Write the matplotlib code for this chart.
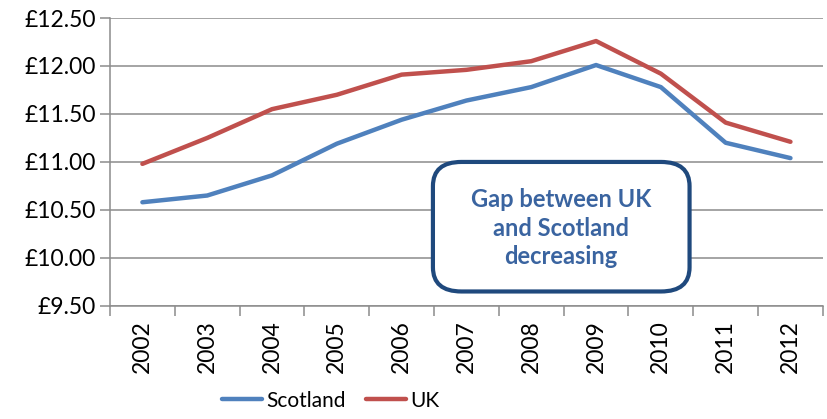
import matplotlib.pyplot as plt
from matplotlib.patches import FancyBboxPatch
import numpy as np

years = ['2002', '2003', '2004', '2005', '2006', '2007', '2008', '2009', '2010', '2011', '2012']
scotland = [10.58, 10.65, 10.86, 11.19, 11.44, 11.64, 11.78, 12.01, 11.78, 11.20, 11.04]
uk = [10.98, 11.25, 11.55, 11.70, 11.91, 11.96, 12.05, 12.26, 11.92, 11.41, 11.21]
yticks = [9.50, 10.00, 10.50, 11.00, 11.50, 12.00, 12.50]

plt.rcParams['font.family'] = ['Lato', 'DejaVu Sans']

fig = plt.figure(figsize=(8.27, 4.19), dpi=100)
ax = fig.add_axes([0.133, 0.27, 0.862, 0.687])

x = np.arange(len(years))
ax.plot(x, scotland, color='#4F81BD', lw=3.2, label='Scotland', solid_capstyle='round', zorder=3)
ax.plot(x, uk, color='#C0504D', lw=3.2, label='UK', solid_capstyle='round', zorder=3)

ax.set_xlim(-0.5, len(years) - 0.5)
ax.set_ylim(9.5, 12.5)
ax.set_yticks(yticks)
ax.set_yticklabels(['£%.2f' % v for v in yticks], fontsize=16.5)
ax.yaxis.grid(True, color='#8C8C8C', lw=1.1)
ax.set_axisbelow(True)

ax.set_xticks(x)
ax.set_xticklabels(years, rotation=90, fontsize=16.5)
ax.set_xticks(np.arange(-0.5, len(years)), minor=True)
ax.tick_params(axis='x', which='major', length=0, pad=10)
ax.tick_params(axis='x', which='minor', length=7, color='#8C8C8C', width=1.1)
ax.tick_params(axis='y', length=7, color='#8C8C8C', width=1.1, pad=3)

for s in ['top', 'right']:
    ax.spines[s].set_visible(False)
for s in ['left', 'bottom']:
    ax.spines[s].set_color('#8C8C8C')
    ax.spines[s].set_linewidth(1.1)

# callout box
box = FancyBboxPatch((0.453, 0.05), 0.36, 0.45, transform=ax.transAxes,
                     boxstyle='round,pad=0,rounding_size=0.04', mutation_aspect=2.1,
                     facecolor='white', edgecolor='#1F497D', lw=3, zorder=4)
ax.add_patch(box)
ax.text(0.633, 0.27, 'Gap between UK\nand Scotland\ndecreasing', transform=ax.transAxes,
        ha='center', va='center', fontsize=17, fontweight='bold', color='#3A64A0',
        linespacing=1.3, zorder=5)

fig.legend(loc='lower center', bbox_to_anchor=(0.4, -0.025), ncol=2, frameon=False,
           fontsize=15, handlelength=1.9, handletextpad=0.2, columnspacing=1.0)

fig.savefig('out.png', dpi=100)
